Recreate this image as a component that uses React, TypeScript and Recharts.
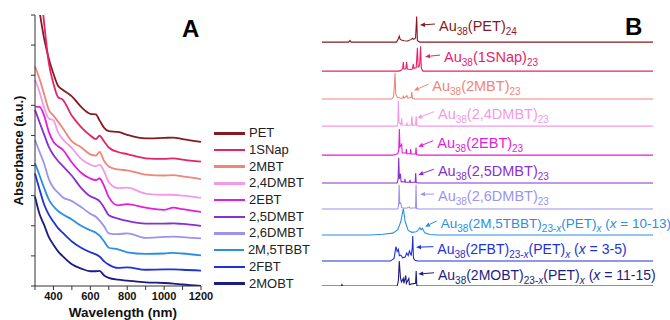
import { LineChart, Line, XAxis, YAxis, Legend, ReferenceDot, Label } from "recharts"

// ---- panel A: UV-vis absorbance (offset for clarity) ----
const wavelengths = [300, 325, 350, 375, 400, 425, 450, 500, 550, 600, 630, 650, 675, 700, 750, 800, 900, 1000, 1050, 1100, 1200]

const ligands = ["PET", "1SNap", "2MBT", "2,4DMBT", "2EBT", "2,5DMBT", "2,6DMBT", "2M,5TBBT", "2FBT", "2MOBT"]
const colors = ["#861a22", "#e6236a", "#f0857a", "#f29ae6", "#e41ddc", "#8a2fd0", "#9c93ee", "#2a8fe2", "#1f31d8", "#1b1d82"]

const absPET = [10.0, 9.1, 8.2, 7.55, 7.05, 6.65, 6.52, 6.3, 5.95, 5.72, 5.7, 5.5, 5.25, 5.14, 5.12, 5.02, 4.9, 4.92, 4.93, 4.88, 4.79]
const abs1SNap = [11.5, 10.3, 8.7, 7.4, 6.72, 6.27, 6.19, 5.65, 5.28, 5.0, 4.88, 4.99, 4.8, 4.6, 4.45, 4.38, 4.24, 4.22, 4.24, 4.2, 4.13]
const abs2MBT = [7.29, 6.87, 6.36, 5.85, 5.66, 5.46, 5.25, 4.8, 4.61, 4.37, 4.33, 4.45, 4.15, 3.97, 3.87, 3.84, 3.7, 3.67, 3.68, 3.64, 3.55]
const abs24DMBT = [6.85, 6.43, 5.92, 5.56, 5.5, 5.1, 4.88, 4.58, 4.22, 4.03, 3.98, 4.02, 3.8, 3.45, 3.25, 3.27, 3.07, 3.03, 3.03, 3.0, 2.93]
const abs2EBT = [5.96, 5.95, 5.65, 5.12, 4.79, 4.64, 4.53, 4.1, 3.76, 3.57, 3.52, 3.57, 3.32, 2.95, 2.68, 2.72, 2.6, 2.53, 2.6, 2.55, 2.46]
const abs25DMBT = [5.85, 5.43, 5.02, 4.62, 4.35, 4.15, 3.99, 3.66, 3.26, 2.98, 2.9, 2.82, 2.6, 2.35, 2.24, 2.16, 2.07, 2.07, 2.08, 2.06, 2.0]
const abs26DMBT = [4.85, 4.45, 4.05, 3.55, 3.26, 3.1, 2.95, 2.82, 2.62, 2.4, 2.3, 2.17, 1.98, 1.75, 1.72, 1.75, 1.6, 1.63, 1.64, 1.62, 1.58]
const abs2M5TBBT = [4.08, 3.67, 3.25, 2.87, 2.65, 2.49, 2.38, 2.21, 2.0, 1.85, 1.77, 1.67, 1.48, 1.27, 1.22, 1.12, 1.07, 1.08, 1.1, 1.08, 1.02]
const abs2FBT = [3.74, 3.2, 2.7, 2.37, 2.13, 1.92, 1.77, 1.48, 1.27, 1.12, 1.05, 0.98, 0.82, 0.71, 0.6, 0.62, 0.54, 0.55, 0.55, 0.54, 0.51]
const abs2MOBT = [2.97, 2.38, 2.02, 1.62, 1.37, 1.15, 0.99, 0.72, 0.58, 0.49, 0.49, 0.5, 0.35, 0.27, 0.21, 0.18, 0.12, 0.1, 0.08, 0.05, 0.0]

const absorbance = [absPET, abs1SNap, abs2MBT, abs24DMBT, abs2EBT, abs25DMBT, abs26DMBT, abs2M5TBBT, abs2FBT, abs2MOBT]

const wlTicks = [300, 400, 500, 600, 700, 800, 900, 1000, 1100, 1200]
const absTicks = [0, 1, 2, 3, 4, 5, 6, 7, 8, 9]

// ---- panel B: MALDI mass spectra, [m/z, relative intensity] ----
const msPET = [[3000, 0], [5200, 0], [5300, 0.06], [5400, 0], [9100, 0], [9250, 0.12], [9320, 0.22], [9400, 0.1], [9500, 0.08], [9700, 0.05], [10000, 0.04], [10300, 0.1], [10400, 0.14], [10500, 0.1], [10650, 0.15], [10740, 0.94], [10800, 0.05], [11000, 0], [30000, 0]]
const ms1SNap = [[3000, 0], [9300, 0], [9500, 0.04], [9600, 0.1], [9650, 0.33], [9700, 0.08], [9850, 0.08], [9920, 0.33], [9980, 0.08], [10200, 0.06], [10400, 0.08], [10460, 0.27], [10520, 0.1], [10700, 0.12], [10800, 0.86], [10860, 0.15], [10980, 0.2], [11060, 0.92], [11120, 0.1], [11250, 0], [30000, 0]]
const ms2MBT = [[3000, 0], [8700, 0], [8850, 0.08], [8930, 0.5], [8975, 0.97], [9030, 0.2], [9150, 0.07], [9400, 0.03], [9600, 0.04], [9650, 0.1], [9700, 0.03], [9950, 0.12], [10020, 0.03], [10300, 0.06], [10340, 0.27], [10400, 0.02], [10600, 0], [30000, 0]]
const ms24DMBT = [[3000, 0], [9150, 0], [9200, 0.1], [9250, 0.93], [9300, 0.15], [9450, 0.05], [9520, 0.28], [9570, 0.04], [9900, 0.03], [9950, 0.1], [10000, 0.03], [10300, 0.04], [10350, 0.37], [10400, 0.03], [10650, 0.04], [10700, 0.37], [10750, 0.02], [10900, 0], [30000, 0]]
const ms2EBT = [[3000, 0], [8800, 0], [9000, 0.02], [9200, 0.05], [9280, 0.2], [9330, 0.96], [9380, 0.3], [9520, 0.4], [9560, 0.08], [9870, 0.08], [9900, 0.22], [9940, 0.05], [10220, 0.05], [10250, 0.22], [10290, 0.04], [10650, 0.05], [10690, 0.28], [10730, 0.02], [10900, 0], [30000, 0]]
const ms25DMBT = [[3000, 0], [9150, 0], [9230, 0.15], [9275, 0.93], [9330, 0.15], [9420, 0.34], [9470, 0.05], [9760, 0.04], [9790, 0.16], [9820, 0.03], [10170, 0.03], [10200, 0.12], [10240, 0.02], [10620, 0.04], [10660, 0.37], [10700, 0.02], [10900, 0], [30000, 0]]
const ms26DMBT = [[3000, 0], [9200, 0], [9270, 0.15], [9310, 0.9], [9360, 0.2], [9450, 0.22], [9520, 0.05], [9900, 0.03], [10150, 0.08], [10200, 0.03], [10650, 0.05], [10690, 0.9], [10730, 0.02], [10900, 0], [30000, 0]]
const ms2M5TBBT = [[3000, 0], [7000, 0], [8000, 0.03], [8800, 0.07], [9200, 0.2], [9450, 0.5], [9650, 0.98], [9800, 0.5], [10050, 0.17], [10350, 0.1], [10700, 0.12], [10900, 0.2], [11000, 0.27], [11100, 0.2], [11200, 0.25], [11400, 0.08], [11800, 0.02], [12500, 0], [30000, 0]]
const ms2FBT = [[3000, 0], [8600, 0], [8900, 0.1], [9000, 0.4], [9060, 0.53], [9150, 0.35], [9250, 0.43], [9330, 0.2], [9450, 0.22], [9600, 0.12], [9800, 0.15], [9930, 0.3], [10050, 0.2], [10150, 0.37], [10300, 0.2], [10380, 0.5], [10420, 0.92], [10480, 0.1], [10600, 0.03], [10800, 0], [30000, 0]]
const ms2MOBT = [[3000, 0], [4600, 0], [4650, 0.05], [4700, 0], [9150, 0], [9250, 0.2], [9320, 0.92], [9380, 0.55], [9420, 0.3], [9500, 0.15], [9650, 0.28], [9700, 0.1], [9850, 0.39], [9900, 0.1], [10100, 0.28], [10150, 0.05], [10350, 0.08], [10650, 0.1], [10700, 0.55], [10750, 0.02], [10900, 0], [30000, 0]]

const spectra = [msPET, ms1SNap, ms2MBT, ms24DMBT, ms2EBT, ms25DMBT, ms26DMBT, ms2M5TBBT, ms2FBT, ms2MOBT]
// vertical offset of each trace (in trace units)
const msOffsets = [9.0, 7.93, 6.9, 5.9, 4.83, 3.8, 2.84, 1.88, 0.92, 0]

const mzTicks = [5000, 7500, 10000, 12500, 15000, 17500, 20000, 22500, 25000, 27500, 30000]
const mzLabels = [5000, 10000, 15000, 20000, 25000]

// peak labels: arrow head at (mz, trace units), tail offset in px
type Part = { t: string; sub?: boolean; it?: boolean }
const N = (t: string): Part => ({ t })
const S = (t: string): Part => ({ t, sub: true })
const SI = (t: string): Part => ({ t, sub: true, it: true })
const I = (t: string): Part => ({ t, it: true })

const msNotes = [
  { mz: 11010, u: 9.63, tail: [15, -1], size: 14.5, parts: [N("Au"), S("38"), N("(PET)"), S("24")] },
  { mz: 11420, u: 8.46, tail: [15, -1.7], size: 14.5, parts: [N("Au"), S("38"), N("(1SNap)"), S("23")] },
  { mz: 10520, u: 7.21, tail: [14.3, -6.4], size: 14.5, parts: [N("Au"), S("38"), N("(2MBT)"), S("23")] },
  { mz: 10790, u: 6.19, tail: [16.7, -6.6], size: 14.5, parts: [N("Au"), S("38"), N("(2,4DMBT)"), S("23")] },
  { mz: 10870, u: 5.14, tail: [15, -6], size: 14.5, parts: [N("Au"), S("38"), N("(2EBT)"), S("23")] },
  { mz: 10870, u: 4.1, tail: [15.7, -5.7], size: 14.5, parts: [N("Au"), S("38"), N("(2,5DMBT)"), S("23")] },
  { mz: 11010, u: 3.39, tail: [14, 0], size: 14.5, parts: [N("Au"), S("38"), N("(2,6DMBT)"), S("23")] },
  { mz: 11420, u: 2.19, tail: [11.7, -5.7], size: 13.5, parts: [N("Au"), S("38"), N("(2M,5TBBT)"), S("23-"), SI("x"), N("(PET)"), SI("x"), N(" ("), I("x"), N(" = 10-13)")] },
  { mz: 10690, u: 1.43, tail: [17.3, -0.6], size: 14, parts: [N("Au"), S("38"), N("(2FBT)"), S("23-"), SI("x"), N("(PET)"), SI("x"), N(" ("), I("x"), N(" = 3-5)")] },
  { mz: 10870, u: 0.44, tail: [15.7, -1.3], size: 14, parts: [N("Au"), S("38"), N("(2MOBT)"), S("23-"), SI("x"), N("(PET)"), SI("x"), N(" ("), I("x"), N(" = 11-15)")] },
]

const uvData = wavelengths.map((w, i) => {
  const row: Record<string, number> = { w }
  ligands.forEach((l, j) => (row[l] = absorbance[j][i]))
  return row
})

const FONT = "'Liberation Sans', Arial, sans-serif"
const axisText = { fill: "#111", fontSize: 11, fontWeight: "bold" as const }

function UvLegend() {
  return (
    <div>
      {ligands.map((l, j) => (
        <div key={l} style={{ display: "flex", alignItems: "center", height: 16.7 }}>
          <span style={{ display: "inline-block", width: 31, height: 2.5, background: colors[j], marginRight: 4 }} />
          <span style={{ fontSize: 13, color: "#222", lineHeight: "16px" }}>{l}</span>
        </div>
      ))}
    </div>
  )
}

function MsNote({ cx, cy, note, color }: any) {
  const [dx, dy] = note.tail
  const tx = cx + dx
  const ty = cy + dy
  const len = Math.hypot(dx, dy)
  const ux = -dx / len
  const uy = -dy / len
  const bx = cx - ux * 5
  const by = cy - uy * 5
  const head = `${cx},${cy} ${bx - uy * 2.2},${by + ux * 2.2} ${bx + uy * 2.2},${by - ux * 2.2}`
  let prevSub = false
  return (
    <g>
      <line x1={tx} y1={ty} x2={bx} y2={by} stroke={color} strokeWidth={1} />
      <polygon points={head} fill={color} />
      <text x={tx + 4} y={ty + 7} fill={color} fontSize={note.size} style={{ whiteSpace: "pre" }}>
        {note.parts.map((p: Part, k: number) => {
          const shift = (p.sub ? 4 : 0) - (prevSub ? 4 : 0)
          prevSub = !!p.sub
          return (
            <tspan key={k} dy={shift} fontSize={p.sub ? 10 : note.size} fontStyle={p.it ? "italic" : "normal"}>
              {p.t}
            </tspan>
          )
        })}
      </text>
    </g>
  )
}

export default function App() {
  return (
    <div style={{ position: "absolute", left: 0, top: 0, width: 670, height: 320, background: "#fff", fontFamily: FONT }}>
      <div style={{ position: "absolute", left: 0, top: 0 }}>
        <LineChart width={310} height={320} data={uvData} margin={{ top: 15, right: 109, bottom: 0, left: 0 }}>
          <XAxis
            dataKey="w"
            type="number"
            domain={[300, 1200]}
            ticks={wlTicks}
            interval={0}
            tickFormatter={(v: number) => (v % 200 === 0 && v > 300 ? String(v) : "")}
            height={34}
            tickSize={4}
            tickMargin={2}
            stroke="#333"
            tick={axisText}
          >
            <Label value="Wavelength (nm)" position="insideBottom" offset={3} dx={5} fill="#111" fontSize={13.5} fontWeight="bold" />
          </XAxis>
          <YAxis
            type="number"
            domain={[0, 9]}
            ticks={absTicks}
            interval={0}
            allowDataOverflow
            tickFormatter={() => ""}
            width={35}
            tickSize={4}
            stroke="#333"
          >
            <Label value="Absorbance (a.u.)" angle={-90} position="center" dx={1} fill="#111" fontSize={13} fontWeight="bold" />
          </YAxis>
          {ligands.map((l, j) => (
            <Line key={l} dataKey={l} name={l} type="monotone" stroke={colors[j]} strokeWidth={1.8} dot={false} activeDot={false} isAnimationActive={false} />
          ))}
          <Legend layout="horizontal" verticalAlign="middle" align="center" wrapperStyle={{ left: 214, top: 125, width: 96 }} content={() => <UvLegend />} />
        </LineChart>
      </div>

      <div style={{ position: "absolute", left: 310, top: 0 }}>
        <LineChart width={360} height={320} margin={{ top: 15, right: 17, bottom: 34, left: 11.7 }}>
          <XAxis
            xAxisId="mz"
            dataKey="mz"
            type="number"
            domain={[3000, 30000]}
            allowDataOverflow
            ticks={mzTicks}
            interval={0}
            tickFormatter={(v: number) => (v === 30000 ? "30000" : "")}
            height={0}
            tickSize={3}
            tickMargin={2}
            stroke="#333"
            tick={axisText}
          />
          <XAxis
            xAxisId="lbl"
            type="number"
            domain={[2280, 35910]}
            allowDataOverflow
            ticks={mzLabels}
            interval={0}
            height={0}
            axisLine={false}
            tickLine={false}
            tickSize={3}
            tickMargin={2}
            tick={axisText}
          >
            <Label value="m/z" position="bottom" offset={21} dx={-4} fill="#111" fontSize={13.5} fontWeight="bold" />
          </XAxis>
          <YAxis hide type="number" domain={[0, 10]} allowDataOverflow />
          {spectra.map((sp, j) => (
            <Line
              key={ligands[j]}
              xAxisId="mz"
              data={sp.map(([mz, v]) => ({ mz, v: v + msOffsets[j] }))}
              dataKey="v"
              type="linear"
              stroke={colors[j]}
              strokeWidth={1.1}
              dot={false}
              activeDot={false}
              isAnimationActive={false}
            />
          ))}
          {msNotes.map((n, j) => (
            <ReferenceDot
              key={j}
              xAxisId="mz"
              x={n.mz}
              y={n.u}
              r={0}
              shape={(p: any) => <MsNote cx={p.cx} cy={p.cy} note={n} color={colors[j]} />}
            />
          ))}
        </LineChart>
      </div>

      <div style={{ position: "absolute", left: 182, top: 16.7, fontSize: 24, lineHeight: "24px", fontWeight: "bold", color: "#000" }}>A</div>
      <div style={{ position: "absolute", left: 625, top: 14.7, fontSize: 24, lineHeight: "24px", fontWeight: "bold", color: "#000" }}>B</div>
    </div>
  )
}
